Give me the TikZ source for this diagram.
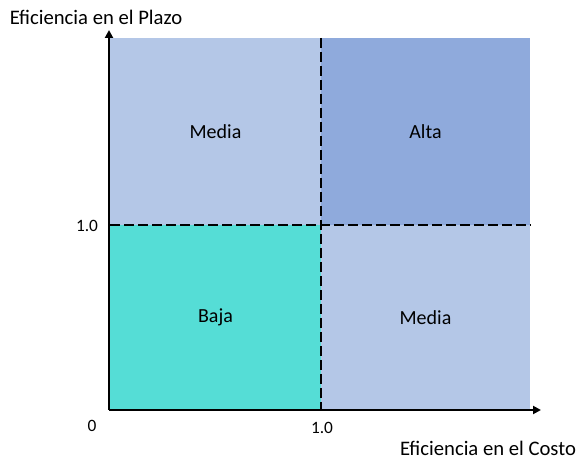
\documentclass[tikz,border=0pt]{standalone}
\usepackage{fontspec}
\setmainfont{Carlito}
\usetikzlibrary{arrows.meta}

\definecolor{azulclaro}{HTML}{B4C7E7}
\definecolor{azuloscuro}{HTML}{8FAADC}
\definecolor{turquesa}{HTML}{55DDD6}

\begin{document}
\begin{tikzpicture}[x=0.75pt, y=-0.75pt, font=\fontsize{15}{18}\selectfont]
    \useasboundingbox (0,0) rectangle (579,459);

    % cuadrantes
    \node[rectangle, fill=azulclaro, minimum width=158.25pt, minimum height=140.25pt, inner sep=0] (Q1) at (215.5, 131.5) {Media};
    \node[rectangle, fill=azuloscuro, minimum width=156.75pt, minimum height=140.25pt, inner sep=0] (Q2) at (425.5, 131.5) {Alta};
    \node[rectangle, fill=turquesa, minimum width=158.25pt, minimum height=138.75pt, inner sep=0] (Q3) at (215.5, 317.5) {Baja};
    \node[rectangle, fill=azulclaro, minimum width=156.75pt, minimum height=138.75pt, inner sep=0] (Q4) at (425.5, 317.5) {Media};

    \coordinate (O) at (109, 410);
    \coordinate (X) at (541, 410);
    \coordinate (Y) at (109, 30);
    \coordinate (V1) at (321, 38);
    \coordinate (V2) at (321, 410);
    \coordinate (H1) at (110, 225);
    \coordinate (H2) at (531, 225);

    \node[font=\fontsize{15.5}{18}\selectfont, inner sep=0] (ejey) at (96, 17) {Eficiencia en el Plazo};
    \node[font=\fontsize{15.5}{18}\selectfont, inner sep=0] (ejex) at (488, 448) {Eficiencia en el Costo};
    \node[font=\fontsize{13}{15}\selectfont] (cero) at (92, 426) {0};
    \node[font=\fontsize{13}{15}\selectfont] (unox) at (322, 428) {1.0};
    \node[font=\fontsize{13}{15}\selectfont] (unoy) at (87, 226) {1.0};

    \draw[line width=2.2pt, dash pattern=on 7.5pt off 3pt] (H1) -- (H2);
    \draw[line width=2.2pt, dash pattern=on 7.5pt off 3pt] (V1) -- (V2);

    \draw[line width=2.1pt, -{Triangle[length=6pt, width=6pt]}] (O) -- (X);
    \draw[line width=2.1pt, -{Triangle[length=6pt, width=6pt]}] (O) -- (Y);
\end{tikzpicture}
\end{document}
